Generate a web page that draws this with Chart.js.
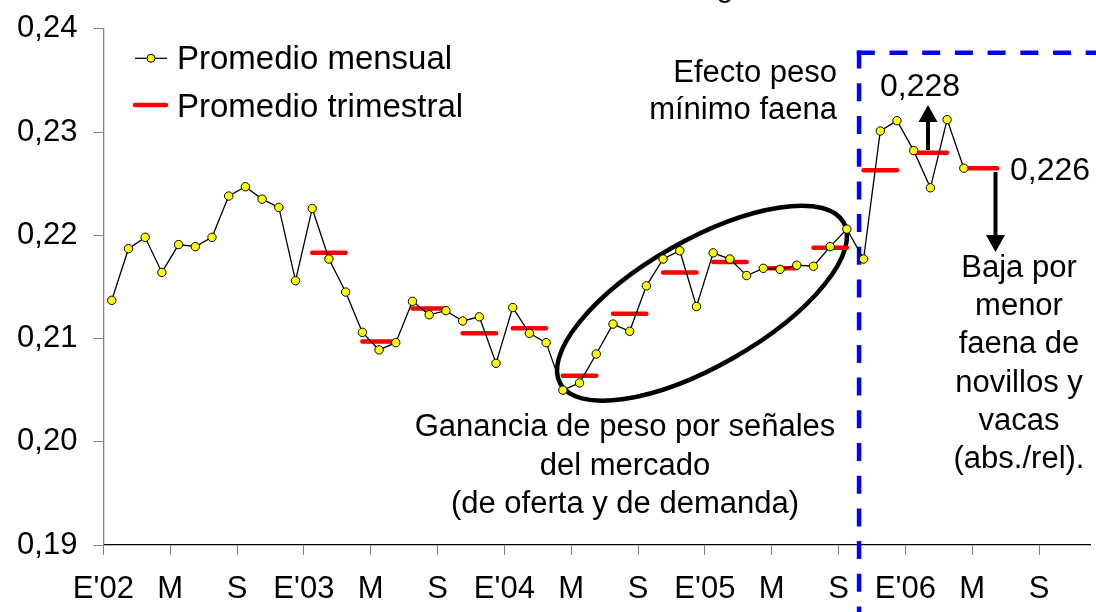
<!DOCTYPE html>
<html lang="es">
<head>
<meta charset="UTF-8">
<title>Peso promedio mensual y trimestral</title>
<script src="https://cdn.jsdelivr.net/npm/chart.js"></script>
<style>
    * { margin: 0; padding: 0; box-sizing: border-box; }
    body { background: #fff; width: 1096px; height: 612px; overflow: hidden; }
    .chart-box { position: relative; width: 1096px; height: 612px; }
</style>
</head>
<body>
<div class="chart-box"><canvas id="pesoChart"></canvas></div>
<script>
// monthly average, month index 0 = E'02 (Jan 2002) .. 51 = Apr 2006
const promedioMensual = [
    0.2137, 0.2187, 0.2198, 0.2164, 0.2191, 0.2189, 0.2198, 0.2238, 0.2247, 0.2235, 0.2227, 0.2156,
    0.2226, 0.2177, 0.2145, 0.2106, 0.2089, 0.2096, 0.2136, 0.2123, 0.2127, 0.2117, 0.2121, 0.2076,
    0.2130, 0.2105, 0.2096, 0.2050, 0.2057, 0.2085, 0.2114, 0.2107, 0.2151, 0.2177, 0.2185, 0.2131,
    0.2183, 0.2177, 0.2161, 0.2168, 0.2167, 0.2171, 0.2170, 0.2189, 0.2206, 0.2177, 0.2301, 0.2311,
    0.2282, 0.2246, 0.2312, 0.2265
];
// quarterly average: first month index of the quarter, and its value
const trimestreInicio = [12, 15, 18, 21, 24, 27, 30, 33, 36, 39, 42, 45, 48, 51];
const promedioTrimestral = [0.2183, 0.2097, 0.2129, 0.2105, 0.2110, 0.2064, 0.2124, 0.2164,
    0.2174, 0.2168, 0.2188, 0.2263, 0.2280, 0.2265];

const tickMeses = [0, 4, 8, 12, 16, 20, 24, 28, 32, 36, 40, 44, 48, 52, 56];
const tickEtiquetas = ["E'02", "M", "S", "E'03", "M", "S", "E'04", "M", "S", "E'05", "M", "S", "E'06", "M", "S"];
const yTicks = [0.19, 0.20, 0.21, 0.22, 0.23, 0.24];

const FONT = "'Liberation Sans', Arial, sans-serif";

const puntosMensuales = promedioMensual.map((v, i) => ({ x: i + 0.5, y: v }));
const puntosTrimestrales = [];
trimestreInicio.forEach((m, k) => {
    puntosTrimestrales.push({ x: m + 0.5, y: promedioTrimestral[k] });
    puntosTrimestrales.push({ x: m + 2.5, y: promedioTrimestral[k] });
    puntosTrimestrales.push({ x: m + 2.9, y: null });
});

function texto(ctx, str, x, y, size, align) {
    ctx.font = size + 'px ' + FONT;
    ctx.textAlign = align || 'left';
    ctx.textBaseline = 'alphabetic';
    ctx.fillStyle = '#000';
    ctx.fillText(str, x, y);
}

function flecha(ctx, x, y0, y1) {
    // shaft from y0 to the head, head tip at y1
    const dir = y1 > y0 ? 1 : -1;
    const headLen = 17;
    ctx.strokeStyle = '#000';
    ctx.fillStyle = '#000';
    ctx.lineWidth = 4;
    ctx.beginPath();
    ctx.moveTo(x, y0);
    ctx.lineTo(x, y1 - dir * headLen);
    ctx.stroke();
    ctx.beginPath();
    ctx.moveTo(x, y1);
    ctx.lineTo(x - 9.5, y1 - dir * headLen);
    ctx.lineTo(x + 9.5, y1 - dir * headLen);
    ctx.closePath();
    ctx.fill();
}

const anotaciones = {
    id: 'anotaciones',
    beforeDatasetsDraw(chart) {
        const { ctx, scales: { x, y } } = chart;
        ctx.save();
        // ellipse around the 2004-2005 rise
        ctx.strokeStyle = '#000';
        ctx.lineWidth = 4.5;
        ctx.beginPath();
        ctx.ellipse(x.getPixelForValue(35.83), y.getPixelForValue(0.21342), 163, 63,
            -29.7 * Math.PI / 180, 0, 2 * Math.PI);
        ctx.stroke();

        // blue dashed box
        const bx = x.getPixelForValue(45.23);
        const by = y.getPixelForValue(0.23767);
        ctx.strokeStyle = '#0000ff';
        ctx.lineWidth = 4.5;
        ctx.setLineDash([18, 14.7]);
        ctx.beginPath();
        ctx.moveTo(bx, by - 2.25);
        ctx.lineTo(bx, chart.height + 5);
        ctx.stroke();
        ctx.beginPath();
        ctx.moveTo(bx - 2.25, by);
        ctx.lineTo(chart.width + 5, by);
        ctx.stroke();
        ctx.restore();
    },
    afterDraw(chart) {
        const ctx = chart.ctx;
        ctx.save();

        // legend
        ctx.strokeStyle = '#000';
        ctx.lineWidth = 1.3;
        ctx.beginPath();
        ctx.moveTo(135, 58.3);
        ctx.lineTo(167, 58.3);
        ctx.stroke();
        ctx.beginPath();
        ctx.arc(151, 58.3, 4, 0, 2 * Math.PI);
        ctx.fillStyle = '#ffff00';
        ctx.fill();
        ctx.lineWidth = 1;
        ctx.stroke();
        ctx.strokeStyle = '#ff0000';
        ctx.lineWidth = 4.5;
        ctx.lineCap = 'round';
        ctx.beginPath();
        ctx.moveTo(135, 105);
        ctx.lineTo(166, 105);
        ctx.stroke();
        ctx.lineCap = 'butt';
        texto(ctx, 'Promedio mensual', 177, 68.5, 33);
        texto(ctx, 'Promedio trimestral', 177, 116.7, 33);

        // cut-off title
        texto(ctx, 'g', 716, -4, 32);

        texto(ctx, 'Efecto peso', 837, 82, 31, 'right');
        texto(ctx, 'mínimo faena', 837, 118.5, 31, 'right');

        texto(ctx, '0,228', 880, 96, 32);
        flecha(ctx, 928, 150, 105);
        texto(ctx, '0,226', 1010, 180, 32);
        flecha(ctx, 995.5, 172, 252);

        const baja = ['Baja por', 'menor', 'faena de', 'novillos y', 'vacas', '(abs./rel).'];
        baja.forEach((l, i) => texto(ctx, l, 1019, 277 + i * 38.2, 31, 'center'));

        const ganancia = ['Ganancia de peso por señales', 'del mercado', '(de oferta y de demanda)'];
        ganancia.forEach((l, i) => texto(ctx, l, 625, 436 + i * 38.5, 31, 'center'));

        ctx.restore();
    }
};

new Chart(document.getElementById('pesoChart'), {
    type: 'line',
    data: {
        datasets: [
            {
                label: 'Promedio mensual',
                data: puntosMensuales,
                order: 0,
                borderColor: '#000',
                borderWidth: 1.3,
                tension: 0,
                pointRadius: 4.2,
                pointBackgroundColor: '#ffff00',
                pointBorderColor: '#000',
                pointBorderWidth: 1
            },
            {
                label: 'Promedio trimestral',
                data: puntosTrimestrales,
                order: 1,
                borderColor: '#ff0000',
                borderWidth: 4.5,
                borderCapStyle: 'round',
                spanGaps: false,
                pointRadius: 0
            }
        ]
    },
    options: {
        responsive: true,
        maintainAspectRatio: false,
        animation: false,
        events: [],
        layout: { padding: { top: 28.8, right: 0, bottom: 0, left: 0 } },
        plugins: {
            legend: { display: false },
            tooltip: { enabled: false }
        },
        scales: {
            x: {
                type: 'linear',
                min: 0,
                max: 59.1,
                afterBuildTicks: s => { s.ticks = tickMeses.map(v => ({ value: v })); },
                afterFit: s => { s.height = 67; },
                grid: { drawOnChartArea: false, drawTicks: true, tickLength: 10, color: '#808080' },
                border: { display: true, color: '#000', width: 1.3 },
                ticks: {
                    color: '#000',
                    font: { family: FONT, size: 31 },
                    padding: 16,
                    maxRotation: 0,
                    autoSkip: false,
                    callback: v => tickEtiquetas[tickMeses.indexOf(v)]
                }
            },
            y: {
                min: 0.19,
                max: 0.24,
                afterBuildTicks: s => { s.ticks = yTicks.map(v => ({ value: v })); },
                afterFit: s => {
                    s.width = 103.4;
                    s.paddingTop = 0;
                    s.paddingBottom = 0;
                },
                grid: { drawOnChartArea: false, drawTicks: true, tickLength: 10, color: '#808080' },
                border: { display: true, color: '#808080', width: 1.3 },
                ticks: {
                    color: '#000',
                    font: { family: FONT, size: 31 },
                    padding: 16,
                    callback: v => v.toFixed(2).replace('.', ',')
                }
            }
        }
    },
    plugins: [anotaciones]
});
</script>
</body>
</html>
